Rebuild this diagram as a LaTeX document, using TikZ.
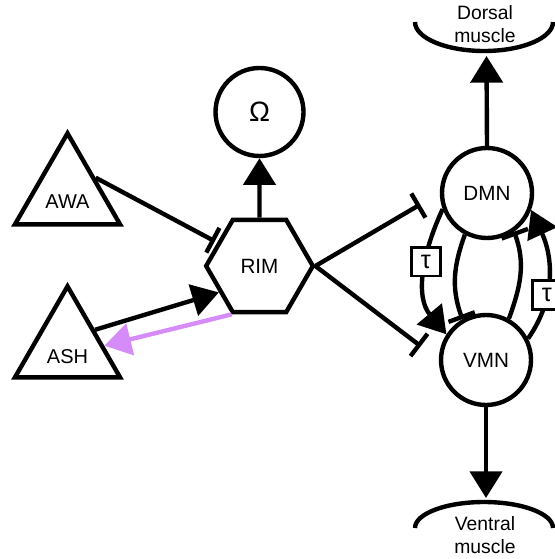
\documentclass[tikz,border=0pt]{standalone}
\usepackage{fontspec}
\setmainfont{Liberation Sans}
\usepackage{tikz}
\usetikzlibrary{shapes.geometric,arrows.meta}

\definecolor{lilac}{RGB}{214,140,248}
\tikzset{
	excite/.style={-{Triangle[length=20pt,width=24pt]}},
	inhibit/.style={-{Bar[width=21pt]}},
	tau/.style={rectangle,draw,fill=white,line width=2pt,minimum size=21.5pt,inner sep=0pt,font=\fontsize{19}{19}\selectfont}
}

\begin{document}
\begin{tikzpicture}[x=0.75pt,y=-0.75pt,line width=3.3pt]
\useasboundingbox (0,0) rectangle (555,559);

\begin{scope}[every node/.style={regular polygon,regular polygon sides=3,draw,line width=3.3pt,minimum size=91pt,inner sep=0pt,font=\fontsize{15}{18}\selectfont}]
	%Sensory
	\node (AWA) at (67.5,194) [label={[name=AWA-text,yshift=-6pt]center:AWA}] {};
	\node (ASH) at (67.5,347) [label={[name=ASH-text,yshift=-7pt]center:ASH}] {};
\end{scope}

\begin{scope}[every node/.style={circle,draw,line width=3.3pt,minimum size=67.5pt,inner sep=0pt,font=\fontsize{15.5}{18}\selectfont}]
	%Interneuron
	\node (RIM) at (259.5,266) [regular polygon,regular polygon sides=6,minimum size=80pt] {RIM};
	\node (Omega) at (259.5,112) [minimum size=66pt,font=\fontsize{21}{21}\selectfont] {Ω};

	%Motor
	\node (DMN) at (487,193) {DMN};
	\node (VMN) at (486,360) {VMN};
\end{scope}

\begin{scope}[every node/.style={align=center,inner sep=0pt,font=\fontsize{14.5}{17}\selectfont}]
	%Muscle
	\node (dorsal) at (485,24) {Dorsal\\muscle};
	\node (ventral) at (485,535) {Ventral\\muscle};
	\coordinate (dorsal-in) at (486.5,56);
	\coordinate (ventral-in) at (486,498);
\end{scope}

\draw (415,22) arc[start angle=180,end angle=0,x radius=69,y radius=29];
\draw (415,528) arc[start angle=180,end angle=360,x radius=69,y radius=26];

%Sensory to RIM
\path [inhibit,shorten >=2pt] (AWA.30) edge (RIM.151);
\path [excite] (ASH.32) edge (RIM.213);
\path [excite,lilac] (RIM.240) edge (ASH.2);

%RIM out
\path [excite] (RIM.north) edge (Omega);
\path [inhibit,shorten >=17pt] (RIM.0) edge (DMN.180);
\path [inhibit,shorten >=17pt] (RIM.0) edge (VMN.180);

%Motor loop
\path [excite] (DMN.200) edge[out=245,in=130] node[tau,pos=0.4] {τ} (VMN.147);
\path [inhibit] (DMN.242) edge[out=250,in=110] (VMN.120);
\path [inhibit] (VMN.61) edge[out=70,in=290] (DMN.305);
\path [excite] (VMN.27) edge[out=55,in=295] node[tau,pos=0.35] {τ} (DMN.339);

%Muscle out
\path [excite] (DMN.north) edge (dorsal-in);
\path [excite] (VMN.south) edge (ventral-in);

\end{tikzpicture}
\end{document}
